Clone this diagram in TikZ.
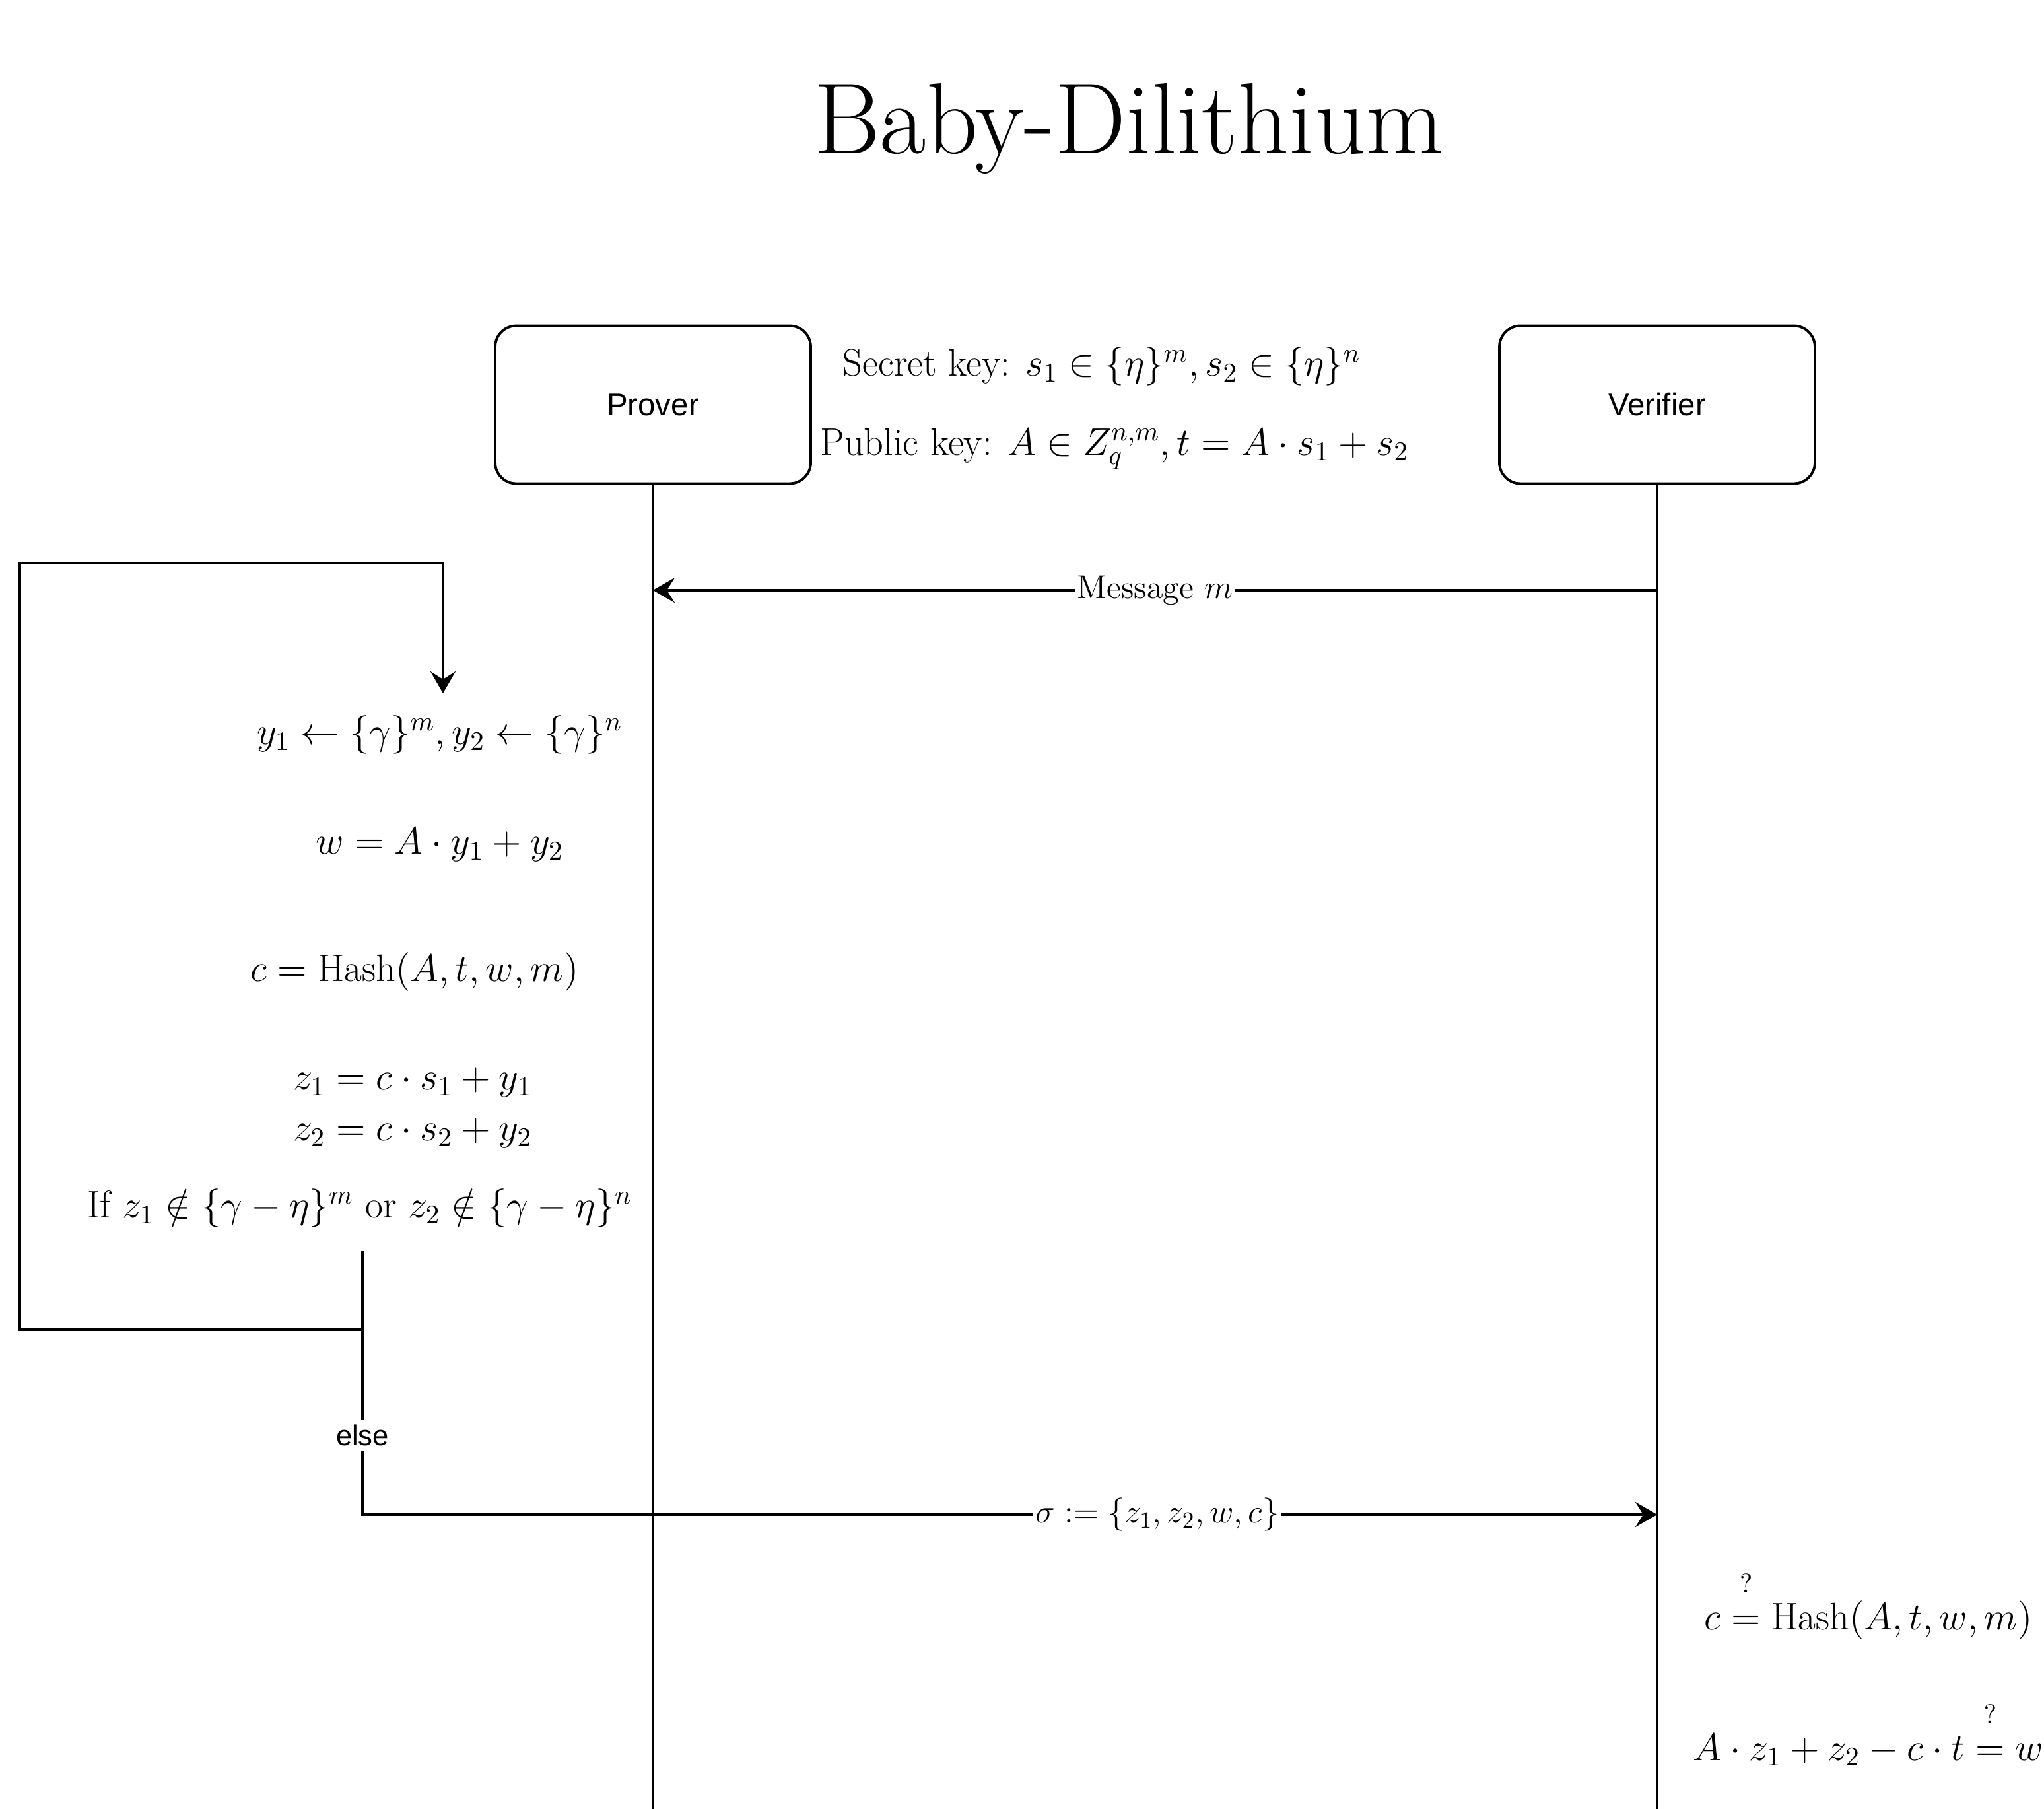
\RequirePackage{fix-cm}
\documentclass[tikz,border=0pt]{standalone}
\usepackage{amsmath}
\usepackage{amssymb}
\usepackage{fontspec}
\setsansfont{Liberation Sans}
\usetikzlibrary{arrows.meta}

\begin{document}
\begin{tikzpicture}[
    line width=1.1pt,
    actor/.style={draw, rounded corners=0.32cm, minimum width=4.78cm, minimum height=2.39cm,
      font=\sffamily\fontsize{13.5}{16}\selectfont},
    mtext/.style={font=\fontsize{16.6}{21.8}\selectfont, align=center},
    lbl/.style={fill=white, inner sep=1pt, font=\fontsize{14.3}{17}\selectfont},
    elbl/.style={fill=white, inner sep=2pt, font=\sffamily\fontsize{12.4}{15}\selectfont},
    arr/.style={-{Stealth[length=3.3mm,width=3.8mm,inset=1.2mm]}}
  ]
    \useasboundingbox (0,0) rectangle (30.96,-27.40);
    \node[anchor=base, font=\fontsize{43.5}{50}\selectfont] (title) at (17.10,-2.33) {Baby-Dilithium};

    \node[actor] (prover) at (9.89,-6.13) {Prover};
    \node[actor] (verifier) at (25.10,-6.13) {Verifier};
    \node[mtext] (sk) at (16.69,-5.55) {Secret key: $s_1 \in \{\eta\}^m, s_2 \in \{\eta\}^n$};
    \node[mtext] (pk) at (16.88,-6.80) {Public key: $A \in Z_q^{n,m}, t = A \cdot s_1 + s_2$};

    \coordinate (pbot) at (9.89,-27.40);
    \coordinate (vbot) at (25.10,-27.40);
    \draw (prover) -- (pbot);
    \draw (verifier) -- (vbot);

    \coordinate (pmsg) at (9.89,-8.94);
    \coordinate (vmsg) at (25.10,-8.94);
    \draw[arr] (vmsg) -- node[lbl] {Message $m$} (pmsg);

    \node[mtext] (ysmp) at (6.66,-11.13) {$y_1 \leftarrow \{\gamma\}^m, y_2 \leftarrow \{\gamma\}^n$};
    \node[mtext] (wcmt) at (6.66,-12.79) {$w = A \cdot y_1 + y_2$};
    \node[mtext] (chal) at (6.28,-14.72) {$c = \mathrm{Hash}(A, t, w, m)$};
    \node[mtext] (resp) at (6.25,-16.78) {$z_1 = c \cdot s_1 + y_1$\\ $z_2 = c \cdot s_2 + y_2$};
    \node[mtext] (rej) at (5.45,-18.30) {If $z_1 \notin \{\gamma - \eta\}^m$ or $z_2 \notin \{\gamma - \eta\}^n$};

    \coordinate (ifout) at (5.49,-18.95);
    \coordinate (split) at (5.49,-20.14);
    \coordinate (loopin) at (6.71,-10.50);
    \draw[arr] (ifout) -- (split) -| (0.30,-8.53) -| (loopin);

    \coordinate (elbow) at (5.49,-22.94);
    \coordinate (vsig) at (25.10,-22.94);
    \draw[arr] (ifout) -- node[elbl, pos=0.7] {else} (elbow)
      -- node[lbl, pos=0.614] {$\sigma := \{z_1, z_2, w, c\}$} (vsig);

    \node[mtext, anchor=base] (chk1) at (28.30,-24.68)
      {$c \mathrel{\overset{?}{\mathstrut{=}}} \mathrm{Hash}(A, t, w, m)$};
    \node[mtext, anchor=base] (chk2) at (28.30,-26.66)
      {$A \cdot z_1 + z_2 - c \cdot t \mathrel{\overset{?}{\mathstrut{=}}} w$};
\end{tikzpicture}
\end{document}
